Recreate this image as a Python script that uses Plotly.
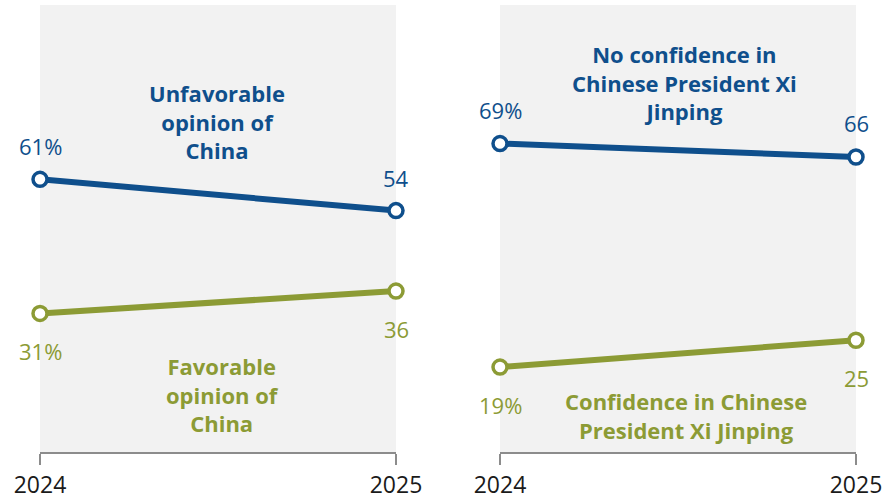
import plotly.graph_objects as go

years = [2024, 2025]
unfavorable = [61, 54]
favorable = [31, 36]
no_confidence = [69, 66]
confidence = [19, 25]
year_labels = ["2024", "2025"]

BLUE = "#0f4f8c"
GREEN = "#8c9b35"
FONT = "Open Sans"

W, H = 896, 499
T, B = 5, 47
plot_h = H - T - B

def fmt(vals):
    return [f"{v}%" if i == 0 else f"{v}" for i, v in enumerate(vals)]

fig = go.Figure()

series = [
    (unfavorable, BLUE, "x", "y", 33),
    (favorable, GREEN, "x", "y", -38),
    (no_confidence, BLUE, "x2", "y2", 34),
    (confidence, GREEN, "x2", "y2", -38),
]

for vals, col, xa, ya, shift in series:
    fig.add_trace(go.Scatter(
        x=years, y=vals, xaxis=xa, yaxis=ya, mode="lines+markers",
        line=dict(color=col, width=6),
        marker=dict(size=14, color="white", line=dict(color=col, width=3.5)),
        cliponaxis=False, showlegend=False, hoverinfo="skip",
    ))
    for xv, yv, t in zip(years, vals, fmt(vals)):
        fig.add_annotation(x=xv, y=yv, xref=xa, yref=ya, text=t, showarrow=False,
                           yshift=shift, font=dict(family=FONT, size=22, color=col))

def py(pix):
    return (H - B - pix) / plot_h

labels = [
    ("Unfavorable<br>opinion of<br>China", 217, 121, BLUE),
    ("Favorable<br>opinion of<br>China", 222, 394, GREEN),
    ("No confidence in<br>Chinese President Xi<br>Jinping", 684, 83, BLUE),
    ("Confidence in Chinese<br>President Xi Jinping", 686, 415, GREEN),
]
for txt, px, pyy, col in labels:
    fig.add_annotation(x=px / W, y=py(pyy), xref="paper", yref="paper", text=txt,
                       showarrow=False, xanchor="center", yanchor="middle",
                       font=dict(family=FONT, size=22, color=col, weight="bold"),
                       align="center")

xcommon = dict(range=[2024, 2025], tickvals=years, ticktext=year_labels,
               showgrid=False, zeroline=False, showline=True, linecolor="#8c8c8c",
               linewidth=2, ticks="outside", ticklen=11, tickwidth=2, tickcolor="#8c8c8c",
               automargin=False,
               tickfont=dict(family=FONT, size=23, color="#1a1a1a"))
ycommon = dict(range=[0, 100], visible=False, showgrid=False, zeroline=False,
               automargin=False)

fig.update_layout(
    template="none",
    width=W, height=H,
    margin=dict(l=0, r=0, t=T, b=B, pad=0),
    paper_bgcolor="white", plot_bgcolor="#f2f2f2",
    xaxis=dict(domain=[40 / W, 396 / W], anchor="y", **xcommon),
    xaxis2=dict(domain=[500 / W, 856 / W], anchor="y2", **xcommon),
    yaxis=dict(domain=[0, 1], anchor="x", **ycommon),
    yaxis2=dict(domain=[0, 1], anchor="x2", **ycommon),
)

fig.write_html("out.html", config={"displayModeBar": False},
               post_script="document.body.style.margin='0';document.body.style.overflow='hidden';")
